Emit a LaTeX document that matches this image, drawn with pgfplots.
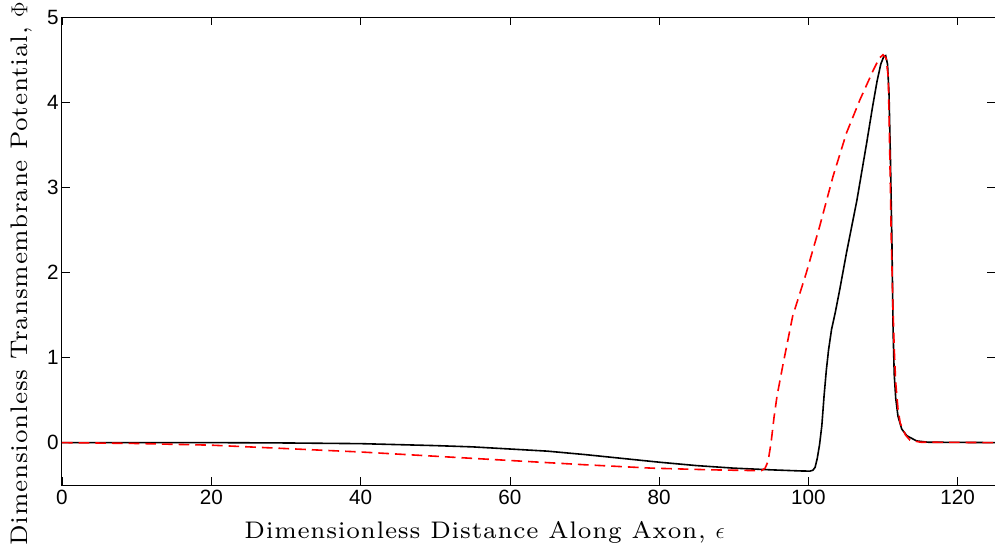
\documentclass[border=0pt]{standalone}
\usepackage{fontspec}
\usepackage{pgfplots}
\pgfplotsset{compat=1.18}
\newfontfamily\tickfont{Liberation Sans}
\newfontfamily\labfont{lmroman7-regular.otf}[LetterSpace=3]

% black: full model, red dashed: reduced model
\pgfplotstableread{
x y
0 0
10 0
20 0
30 -0.004
40 -0.012
50 -0.035
55 -0.05
60 -0.075
65 -0.10
70 -0.14
75 -0.185
80 -0.23
85 -0.27
90 -0.30
95 -0.32
99 -0.333
100.2 -0.335
100.6 -0.325
100.9 -0.29
101.2 -0.18
101.5 -0.02
101.8 0.20
102.1 0.55
102.4 0.85
102.7 1.09
103.1 1.33
103.6 1.53
104.2 1.80
105.1 2.23
106.5 2.85
107.8 3.52
108.6 3.95
109.2 4.25
109.7 4.45
110.1 4.54
110.35 4.55
110.6 4.45
110.8 4.10
111.0 3.30
111.2 2.30
111.35 1.30
111.5 0.80
111.7 0.52
112.0 0.31
112.5 0.16
113.2 0.08
114.5 0.02
116 0.005
125 0
}\blackdata

\pgfplotstableread{
x y
0 0
10 -0.01
20 -0.03
30 -0.07
40 -0.11
50 -0.16
60 -0.21
70 -0.26
79 -0.30
87 -0.32
93.7 -0.33
94.2 -0.30
94.6 -0.22
95.0 0.00
95.4 0.30
95.8 0.55
96.6 0.92
97.9 1.49
99.7 1.99
101.5 2.54
103.3 3.13
105.1 3.64
106.9 4.03
108.7 4.38
109.5 4.52
110.0 4.56
110.4 4.52
110.7 4.30
110.9 3.40
111.1 2.40
111.3 1.68
111.5 1.10
111.7 0.70
112.0 0.40
112.3 0.23
113.0 0.09
113.6 0.03
115 0.005
125 0
}\reddata

\begin{document}
\begin{tikzpicture}
\begin{axis}[
    scale only axis,
    width=700pt,
    height=351pt,
    xmin=0, xmax=125,
    ymin=-0.5, ymax=5,
    xtick={0,20,...,120},
    ytick={0,1,...,5},
    tick align=inside,
    major tick length=6pt,
    every tick/.style={black, line width=0.5pt},
    axis line style={line width=0.75pt},
    tick label style={font=\tickfont\fontsize{15.5}{18}\selectfont},
    yticklabel style={xshift=1pt},
    /pgf/number format/assume math mode=true,
    label style={font=\labfont\fontsize{18}{21}\selectfont, inner sep=0pt},
    xlabel={Dimensionless Distance Along Axon, $\epsilon$},
    ylabel={Dimensionless Transmembrane Potential, $\Phi$},
    xlabel style={at={(axis description cs:0.453,0)}, anchor=base, yshift=-40pt},
    ylabel style={at={(axis description cs:-0.0371,0.452)}, anchor=base},
]
\addplot[black, line width=1.2pt] table[x=x, y=y] {\blackdata};
\addplot[red, line width=1.2pt, dash pattern=on 8pt off 4.5pt] table[x=x, y=y] {\reddata};
\coordinate (sw) at (rel axis cs:0,0);
\coordinate (ne) at (rel axis cs:1,1);
\end{axis}
\pgfresetboundingbox
\path[use as bounding box] ([xshift=-46.5pt,yshift=-45pt]sw) rectangle ([yshift=13pt]ne);
\end{tikzpicture}
\end{document}
